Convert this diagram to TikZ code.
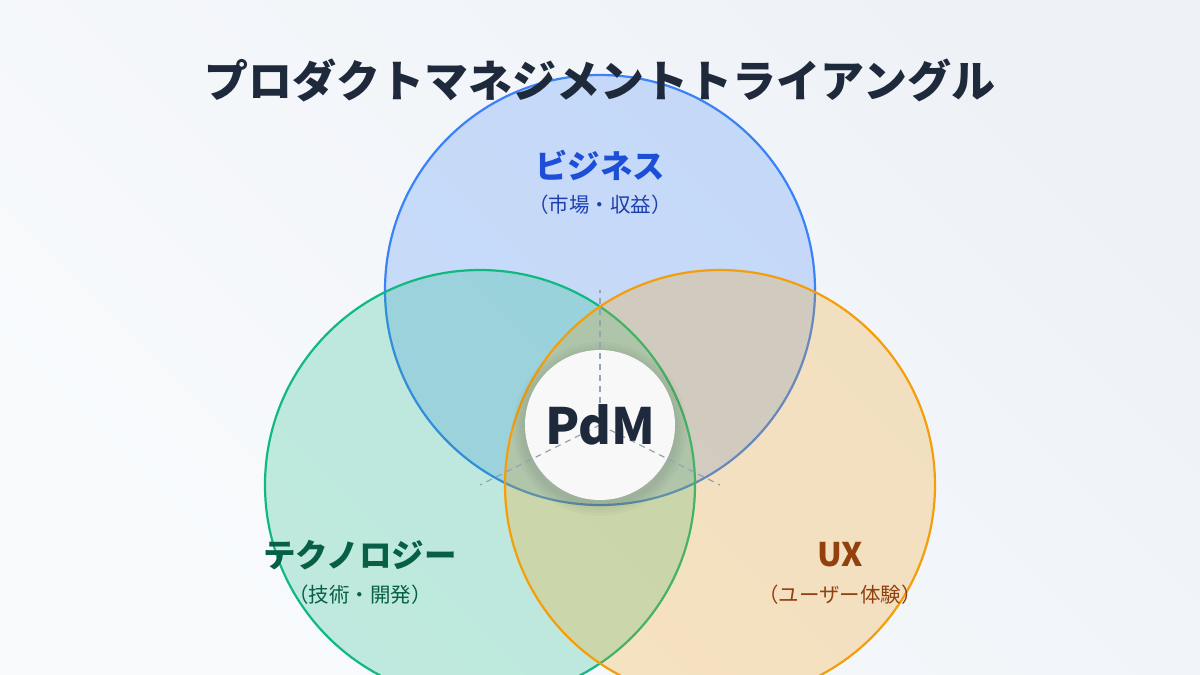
\documentclass[tikz,border=0pt]{standalone}
\usepackage{fontspec}
\setmainfont{Noto Sans CJK JP}
\newfontfamily\jp{Noto Sans CJK JP}
\definecolor{bgA}{HTML}{F8FAFC}
\definecolor{bgB}{HTML}{EEF2F7}
\definecolor{cblue}{HTML}{3B82F6}
\definecolor{cgreen}{HTML}{10B981}
\definecolor{corange}{HTML}{F59E0B}
\definecolor{tblue}{HTML}{1D4ED8}
\definecolor{tblue2}{HTML}{1E40AF}
\definecolor{tgreen}{HTML}{065F46}
\definecolor{tgreen2}{HTML}{065F46}
\definecolor{torange}{HTML}{92400E}
\definecolor{torange2}{HTML}{92400E}
\definecolor{navy}{HTML}{1E293B}
\definecolor{dashc}{HTML}{94A3B8}
\tikzset{
  venn/.style={line width=2.2pt, fill opacity=0.24},
  lbl/.style={font=\jp\bfseries\fontsize{32.5}{38}\selectfont, inner sep=0pt},
  sub/.style={font=\jp\fontsize{20.5}{25}\selectfont, inner sep=0pt},
  guide/.style={dashc, line width=1.2pt, dash pattern=on 6pt off 5pt}
}
\begin{document}
\begin{tikzpicture}[x=1pt,y=-1pt]
\shade[left color=bgA, right color=bgB, shading angle=135] (0,0) rectangle (1200,675);
\useasboundingbox (0,0) rectangle (1200,675);
% circles
\draw[venn, draw=cblue, fill=cblue] (600,290) circle[radius=215pt];
\draw[venn, draw=cgreen, fill=cgreen] (480,485) circle[radius=215pt];
\draw[venn, draw=corange, fill=corange] (720,485) circle[radius=215pt];
\coordinate (cb) at (600,290);
\coordinate (cg) at (480,485);
\coordinate (co) at (720,485);
% soft shadow of center
\foreach \r in {87,84,81,78}{
  \fill[black, opacity=0.025] (600,429) circle[radius=\r pt];
}
\node[circle, minimum size=150pt, fill=white, fill opacity=0.92, inner sep=0pt] (pdm) at (600,425) {};
% guide lines
\draw[guide] (pdm.center) -- (cb);
\draw[guide] (pdm.center) -- (cg);
\draw[guide] (pdm.center) -- (co);
\node[font=\jp\bfseries\fontsize{50}{56}\selectfont, text=navy, inner sep=0pt] at (pdm.center) {PdM};
% title
\node[font=\jp\bfseries\fontsize{44}{50}\selectfont, text=navy, inner sep=0pt] (title) at (600,80) {プロダクトマネジメントトライアングル};
% labels
\node[lbl, text=tblue] (biz) at (600,165) {ビジネス};
\node[sub, text=tblue2] (bizs) at (600,205) {（市場・収益）};
\node[lbl, text=tgreen] (tech) at (360,555) {テクノロジー};
\node[sub, text=tgreen2] (techs) at (360,595) {（技術・開発）};
\node[lbl, text=torange] (ux) at (840,555) {UX};
\node[sub, text=torange2] (uxs) at (840,595) {（ユーザー体験）};
\end{tikzpicture}
\end{document}
